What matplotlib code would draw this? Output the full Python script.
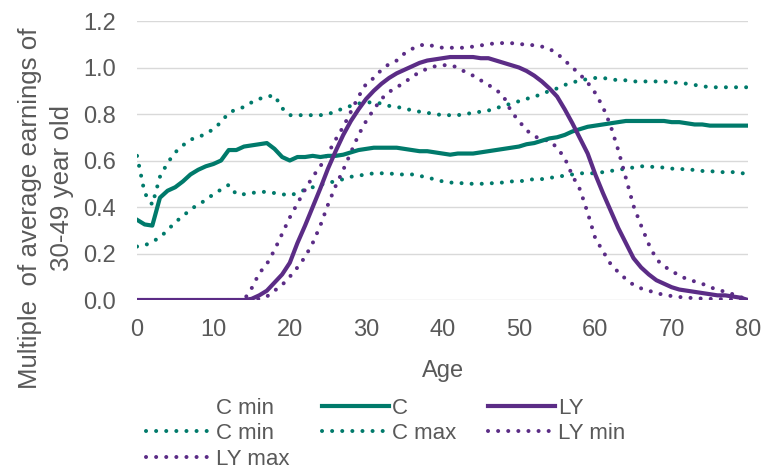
import matplotlib
matplotlib.use("Agg")
import matplotlib.pyplot as plt
from matplotlib.lines import Line2D

plt.rcParams['font.family'] = ['Liberation Sans', 'DejaVu Sans']

ages = list(range(0, 81))

c_mid = [0.345, 0.325, 0.32, 0.44, 0.47, 0.485, 0.51, 0.54, 0.56, 0.575,
         0.585, 0.60, 0.645, 0.645, 0.66, 0.665, 0.67, 0.675, 0.65, 0.615,
         0.60, 0.615, 0.615, 0.62, 0.615, 0.62, 0.62, 0.625, 0.635, 0.645,
         0.65, 0.655, 0.655, 0.655, 0.655, 0.65, 0.645, 0.64, 0.64, 0.635,
         0.63, 0.625, 0.63, 0.63, 0.63, 0.635, 0.64, 0.645, 0.65, 0.655,
         0.66, 0.67, 0.675, 0.685, 0.695, 0.70, 0.71, 0.725, 0.735, 0.745,
         0.75, 0.755, 0.76, 0.765, 0.77, 0.77, 0.77, 0.77, 0.77, 0.77,
         0.765, 0.765, 0.76, 0.755, 0.755, 0.75, 0.75, 0.75, 0.75, 0.75, 0.75]

c_max = [0.62, 0.46, 0.41, 0.53, 0.59, 0.635, 0.665, 0.69, 0.70, 0.715,
         0.735, 0.765, 0.805, 0.82, 0.83, 0.85, 0.865, 0.875, 0.88, 0.825,
         0.795, 0.795, 0.795, 0.795, 0.795, 0.80, 0.81, 0.825, 0.835, 0.845,
         0.85, 0.85, 0.845, 0.835, 0.83, 0.825, 0.815, 0.81, 0.805, 0.80,
         0.795, 0.795, 0.795, 0.80, 0.805, 0.81, 0.815, 0.825, 0.835, 0.845,
         0.855, 0.865, 0.875, 0.885, 0.90, 0.91, 0.925, 0.935, 0.945, 0.95,
         0.955, 0.955, 0.95, 0.945, 0.945, 0.94, 0.94, 0.94, 0.94, 0.94,
         0.935, 0.935, 0.93, 0.925, 0.92, 0.915, 0.915, 0.915, 0.915, 0.915, 0.915]

c_min = [0.23, 0.235, 0.25, 0.27, 0.30, 0.335, 0.36, 0.39, 0.41, 0.43,
         0.455, 0.475, 0.495, 0.455, 0.455, 0.46, 0.465, 0.465, 0.46, 0.455,
         0.45, 0.46, 0.475, 0.485, 0.495, 0.505, 0.51, 0.52, 0.53, 0.535,
         0.54, 0.545, 0.545, 0.545, 0.54, 0.54, 0.54, 0.535, 0.525, 0.52,
         0.51, 0.505, 0.505, 0.50, 0.50, 0.50, 0.50, 0.505, 0.505, 0.51,
         0.51, 0.515, 0.52, 0.52, 0.525, 0.53, 0.535, 0.54, 0.545, 0.545,
         0.545, 0.55, 0.555, 0.56, 0.565, 0.57, 0.575, 0.575, 0.57, 0.57,
         0.565, 0.565, 0.56, 0.56, 0.555, 0.555, 0.55, 0.55, 0.55, 0.545, 0.545]

ly_mid = [0, 0, 0, 0, 0, 0, 0, 0, 0, 0,
          0, 0, 0, 0, 0, 0.005, 0.02, 0.04, 0.075, 0.11,
          0.16, 0.245, 0.32, 0.40, 0.48, 0.565, 0.64, 0.71, 0.77, 0.82,
          0.865, 0.90, 0.93, 0.955, 0.975, 0.99, 1.005, 1.02, 1.03, 1.035,
          1.04, 1.045, 1.045, 1.045, 1.045, 1.04, 1.04, 1.03, 1.02, 1.01,
          1.0, 0.985, 0.965, 0.94, 0.91, 0.875, 0.82, 0.76, 0.695, 0.63,
          0.54, 0.46, 0.385, 0.31, 0.245, 0.18, 0.14, 0.11, 0.085, 0.07,
          0.055, 0.045, 0.04, 0.035, 0.03, 0.025, 0.02, 0.02, 0.015, 0.01, 0.0]

ly_min = [0, 0, 0, 0, 0, 0, 0, 0, 0, 0,
          0, 0, 0, 0, 0, 0, 0.005, 0.015, 0.04, 0.065,
          0.10, 0.14, 0.185, 0.245, 0.32, 0.41, 0.49, 0.56, 0.635, 0.71,
          0.77, 0.82, 0.865, 0.895, 0.915, 0.935, 0.96, 0.98, 0.995, 1.005,
          1.01, 1.01, 1.0, 0.98, 0.965, 0.945, 0.925, 0.905, 0.875, 0.81,
          0.77, 0.73, 0.705, 0.69, 0.685, 0.655, 0.61, 0.535, 0.475, 0.375,
          0.265, 0.21, 0.155, 0.12, 0.09, 0.065, 0.05, 0.04, 0.03, 0.022,
          0.017, 0.013, 0.01, 0.008, 0.006, 0.005, 0.004, 0.003, 0.002, 0.001, 0.0]

ly_max = [0, 0, 0, 0, 0, 0, 0, 0, 0, 0,
          0, 0, 0, 0, 0, 0.05, 0.115, 0.155, 0.215, 0.285,
          0.355, 0.415, 0.475, 0.53, 0.575, 0.63, 0.69, 0.745, 0.81, 0.875,
          0.93, 0.955, 0.99, 1.015, 1.03, 1.06, 1.08, 1.095, 1.10, 1.09,
          1.085, 1.085, 1.085, 1.085, 1.09, 1.095, 1.10, 1.105, 1.105, 1.105,
          1.10, 1.10, 1.095, 1.09, 1.08, 1.06, 1.03, 1.0, 0.97, 0.935,
          0.89, 0.83, 0.75, 0.645, 0.525, 0.405, 0.32, 0.24, 0.175, 0.145,
          0.125, 0.105, 0.09, 0.08, 0.07, 0.055, 0.045, 0.035, 0.025, 0.012, 0.005]

teal = '#007A6B'
purple = '#5B2C86'
grey = '#595959'
dots = (0, (0.01, 2.5))

fig = plt.figure(figsize=(7.72, 4.72), dpi=100)
ax = fig.add_axes([0.1775, 0.3644, 0.7915, 0.5911])

# dotted ranges first, solid lines on top
ax.plot(ages, c_min, color=teal, lw=2.9, linestyle=dots, dash_capstyle='round', label='C min')
ax.plot(ages, c_max, color=teal, lw=2.9, linestyle=dots, dash_capstyle='round', label='C max')
ax.plot(ages, ly_min, color=purple, lw=2.9, linestyle=dots, dash_capstyle='round', label='LY min')
ax.plot(ages, ly_max, color=purple, lw=2.9, linestyle=dots, dash_capstyle='round', label='LY max')
ax.plot(ages, c_mid, color=teal, lw=3, label='C')
ax.plot(ages, ly_mid, color=purple, lw=3, label='LY')

ax.set_xlim(0, 80)
ax.set_ylim(0, 1.2)
ax.set_xticks(range(0, 81, 10))
ax.set_yticks([0, 0.2, 0.4, 0.6, 0.8, 1.0, 1.2])
ax.set_yticklabels(['0.0', '0.2', '0.4', '0.6', '0.8', '1.0', '1.2'])
ax.yaxis.grid(True, color='#d9d9d9', lw=1)
ax.set_axisbelow(True)
for s in ax.spines.values():
    s.set_visible(False)
ax.tick_params(length=0, labelsize=17, labelcolor=grey)
ax.tick_params(axis='y', pad=15)
ax.tick_params(axis='x', pad=14)

ax.set_xlabel('Age', fontsize=17, color=grey, labelpad=13)

# y title, two lines placed as in the original
fig.text(0.0389, 0.5593, 'Multiple  of average earnings of', rotation=90,
         ha='center', va='center', fontsize=18.6, color=grey)
fig.text(0.0803, 0.6017, '30-49 year old', rotation=90,
         ha='center', va='center', fontsize=18.6, color=grey)

# legend laid out like the original (blank first entry)
h = {l.get_label(): l for l in ax.get_lines()}
blank = Line2D([], [], linestyle='none')
handles = [blank, h['C min'], h['LY max'], h['C'], h['C max'], h['LY'], h['LY min']]
labels = ['C min', 'C min', 'LY max', 'C', 'C max', 'LY', 'LY min']
fig.legend(handles, labels, ncol=3, loc='upper center', bbox_to_anchor=(0.5, 0.176),
           frameon=False, fontsize=16, labelcolor=grey, handlelength=3.0,
           handletextpad=0.15, columnspacing=1.45, labelspacing=0.2, borderaxespad=0)

fig.savefig('out.png', dpi=100)
